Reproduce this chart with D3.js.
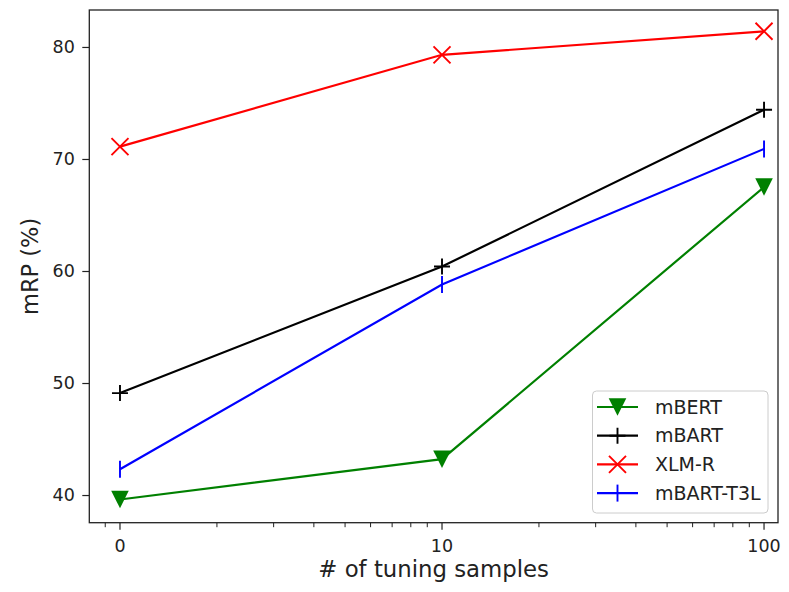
<!DOCTYPE html>
<html>
<head>
<meta charset="utf-8">
<script src="https://cdn.jsdelivr.net/npm/d3@7"></script>
<style>
  body { margin: 0; background: #fff; }
  text { font-family: "DejaVu Sans", sans-serif; fill: #222; }
</style>
</head>
<body>
<script>
// Variables
const w = 789;
const h = 592;
const mLeft = 89.3, mRight = 778, mTop = 10, mBottom = 522.7;

// Datos (x = 1 se muestra como "0")
const xPos = [1, 10, 100];
const xLabels = ["0", "10", "100"];
const yTicks = [40, 50, 60, 70, 80];
const seriesNames = ["mBERT", "mBART", "XLM-R", "mBART-T3L"];
const mBERT = [39.6, 43.2, 67.5];
const mBART = [49.1, 60.4, 74.4];
const xlmR = [71.1, 79.3, 81.4];
const mBARTT3L = [42.3, 58.8, 70.9];

const series = [
    { name: seriesNames[0], values: mBERT, color: "#008000", marker: "tri" },
    { name: seriesNames[1], values: mBART, color: "#000000", marker: "plus" },
    { name: seriesNames[2], values: xlmR, color: "#ff0000", marker: "x" },
    { name: seriesNames[3], values: mBARTT3L, color: "#0000ff", marker: "vline" }
];

const svg = d3.select("body")
    .append("svg")
    .attr("width", w)
    .attr("height", h);

// Escalas
const xScale = d3.scaleLog()
    .domain([0.803, 110.5])
    .range([mLeft, mRight]);

const yScale = d3.scaleLinear()
    .domain([37.53, 83.3])
    .range([mBottom, mTop]);

// Dibuja un marcador
function drawMarker(g, type, x, y, color) {
    if (type === "tri") {
        const s = 8.8;
        g.append("path")
            .attr("d", `M${x - s},${y - s}L${x + s},${y - s}L${x},${y + s}Z`)
            .attr("fill", color);
    } else if (type === "plus") {
        const s = 8;
        g.append("path")
            .attr("d", `M${x - s},${y}L${x + s},${y}M${x},${y - s}L${x},${y + s}`)
            .attr("stroke", color).attr("stroke-width", 1.9).attr("fill", "none");
    } else if (type === "x") {
        const s = 8.5;
        g.append("path")
            .attr("d", `M${x - s},${y - s}L${x + s},${y + s}M${x - s},${y + s}L${x + s},${y - s}`)
            .attr("stroke", color).attr("stroke-width", 1.9).attr("fill", "none");
    } else {
        const s = 8.5;
        g.append("path")
            .attr("d", `M${x},${y - s}L${x},${y + s}`)
            .attr("stroke", color).attr("stroke-width", 1.9).attr("fill", "none");
    }
}

// Ticks menores del eje X
const minorTicks = [];
[0.1, 1, 10].forEach((d) => {
    for (let k = 2; k <= 9; k++) {
        const v = d * k;
        if (v >= 0.803 && v <= 110.5 && v !== 1 && v !== 10 && v !== 100) minorTicks.push(v);
    }
});

const xAxisG = svg.append("g").attr("transform", `translate(0, ${mBottom})`);
xAxisG.selectAll("line.minor")
    .data(minorTicks)
    .enter()
    .append("line")
    .attr("x1", (d) => xScale(d)).attr("x2", (d) => xScale(d))
    .attr("y1", 0).attr("y2", 4.5)
    .attr("stroke", "#222").attr("stroke-width", 1);
xAxisG.selectAll("line.major")
    .data(xPos)
    .enter()
    .append("line")
    .attr("x1", (d) => xScale(d)).attr("x2", (d) => xScale(d))
    .attr("y1", 0).attr("y2", 7)
    .attr("stroke", "#222").attr("stroke-width", 1.2);
xAxisG.selectAll("text")
    .data(xPos)
    .enter()
    .append("text")
    .attr("x", (d) => xScale(d))
    .attr("y", 29)
    .attr("text-anchor", "middle")
    .attr("font-size", "17.5px")
    .text((d, i) => xLabels[i]);

// Eje Y
const yAxis = d3.axisLeft(yScale)
    .tickValues(yTicks)
    .tickSize(7)
    .tickPadding(7.5);
const yAxisG = svg.append("g")
    .attr("transform", `translate(${mLeft}, 0)`)
    .call(yAxis);
yAxisG.select(".domain").remove();
yAxisG.selectAll("line").attr("stroke", "#222").attr("stroke-width", 1.2);
yAxisG.selectAll("text")
    .attr("font-size", "17.5px")
    .attr("font-family", "DejaVu Sans")
    .attr("fill", "#222");

// Lineas y marcadores
const line = d3.line()
    .x((d, i) => xScale(xPos[i]))
    .y((d) => yScale(d));

series.forEach((s) => {
    const g = svg.append("g");
    g.append("path")
        .datum(s.values)
        .attr("d", line)
        .attr("fill", "none")
        .attr("stroke", s.color)
        .attr("stroke-width", 2.2);
    s.values.forEach((v, i) => drawMarker(g, s.marker, xScale(xPos[i]), yScale(v), s.color));
});

// Marco
svg.append("rect")
    .attr("x", mLeft).attr("y", mTop)
    .attr("width", mRight - mLeft).attr("height", mBottom - mTop)
    .attr("fill", "none").attr("stroke", "#222").attr("stroke-width", 1.3);

// Titulos de ejes
svg.append("text")
    .attr("x", (mLeft + mRight) / 2)
    .attr("y", 577)
    .attr("text-anchor", "middle")
    .attr("font-size", "22.8px")
    .text("# of tuning samples");

svg.append("text")
    .attr("x", 38)
    .attr("y", (mTop + mBottom) / 2)
    .attr("text-anchor", "middle")
    .attr("font-size", "22.5px")
    .attr("transform", `rotate(-90, 38, ${(mTop + mBottom) / 2})`)
    .text("mRP (%)");

// Leyenda
const legend = svg.append("g");
legend.append("rect")
    .attr("x", 592.5).attr("y", 391)
    .attr("width", 175.5).attr("height", 122)
    .attr("rx", 4)
    .attr("fill", "#fff").attr("fill-opacity", 0.8)
    .attr("stroke", "#ccc").attr("stroke-width", 1);

series.forEach((s, i) => {
    const y = 407 + i * 28.7;
    legend.append("line")
        .attr("x1", 597).attr("x2", 638)
        .attr("y1", y).attr("y2", y)
        .attr("stroke", s.color).attr("stroke-width", 2.2);
    drawMarker(legend, s.marker, 617.5, y, s.color);
    legend.append("text")
        .attr("x", 655)
        .attr("y", y + 6.5)
        .attr("font-size", "19px")
        .text(s.name);
});
</script>
</body>
</html>
